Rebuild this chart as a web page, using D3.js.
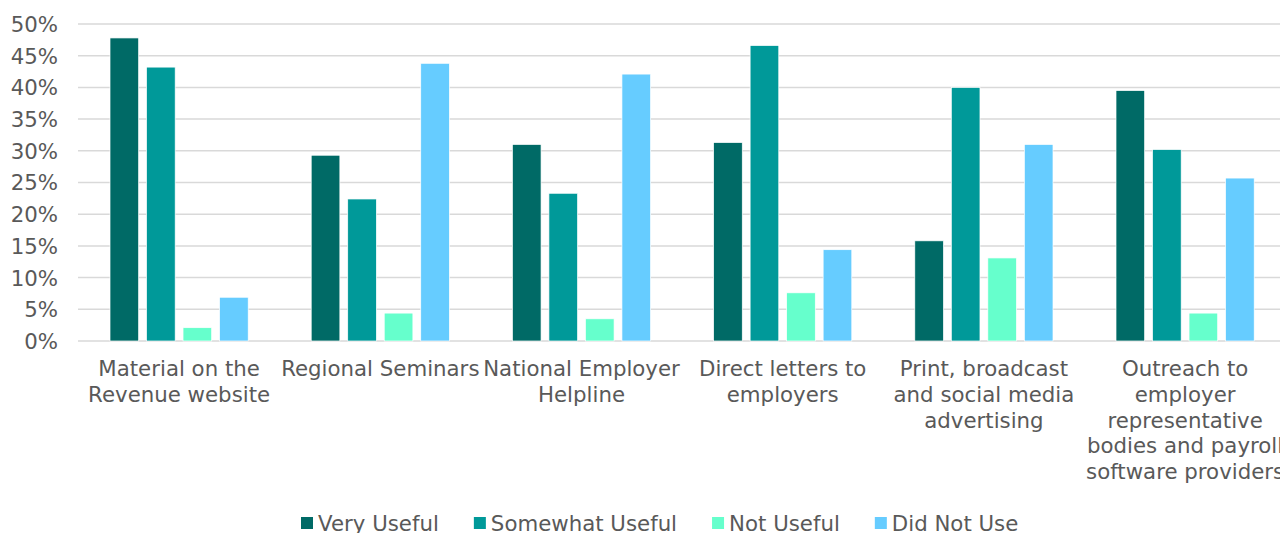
<!DOCTYPE html>
<html><head><meta charset="utf-8">
<script src="https://cdn.jsdelivr.net/npm/d3@7"></script>
<style>body{margin:0;background:#fff;overflow:hidden}svg{display:block}</style>
</head><body>
<script>
const categories = [
  ["Material on the", "Revenue website"],
  ["Regional Seminars"],
  ["National Employer", "Helpline"],
  ["Direct letters to", "employers"],
  ["Print, broadcast", "and social media", "advertising"],
  ["Outreach to", "employer", "representative", "bodies and payroll", "software providers"]
];
const seriesNames = ["Very Useful", "Somewhat Useful", "Not Useful", "Did Not Use"];
const veryUseful     = [47.8, 29.3, 31.0, 31.3, 15.8, 39.5];
const somewhatUseful = [43.2, 22.4, 23.3, 46.6, 40.0, 30.2];
const notUseful      = [2.1, 4.4, 3.5, 7.6, 13.1, 4.4];
const didNotUse      = [6.9, 43.8, 42.1, 14.4, 31.0, 25.7];
const colors = ["#006A66", "#009999", "#66FFCC", "#66CCFF"];
const yTicks = [0, 5, 10, 15, 20, 25, 30, 35, 40, 45, 50];

const W = 1280, H = 533;
const font = "'DejaVu Sans', Verdana, sans-serif";
const fs = 21.3;
const svg = d3.select("body").append("svg").attr("width", W).attr("height", H);

const series = [veryUseful, somewhatUseful, notUseful, didNotUse];
const catIdx = d3.range(categories.length);
const x = d3.scaleBand().domain(catIdx).range([78.5, 1285.7]).paddingInner(0).paddingOuter(0);
const y = d3.scaleLinear().domain([0, 50]).range([341, 24]);
const xs = d3.scaleBand().domain(d3.range(4)).range([31.5, x.bandwidth() - 31.5]).paddingInner(0.215).paddingOuter(0);

// gridlines
svg.append("g").selectAll("line").data(yTicks).join("line")
  .attr("x1", 78).attr("x2", 1285)
  .attr("y1", d => y(d)).attr("y2", d => y(d))
  .attr("stroke", "#d9d9d9").attr("stroke-width", 1.5);

// y axis labels
const yAxis = d3.axisLeft(y).tickValues(yTicks).tickFormat(d => d + "%").tickSize(0).tickPadding(0);
const ya = svg.append("g").attr("transform", "translate(58,0)").call(yAxis);
ya.select(".domain").remove();
ya.selectAll("text").attr("font-family", font).attr("font-size", fs).attr("fill", "#595959").attr("dy", "0.35em");

// bars
const groups = svg.append("g").selectAll("g").data(catIdx).join("g")
  .attr("transform", i => `translate(${x(i)},0)`);
groups.selectAll("rect").data(i => series.map((s, k) => ({k, v: s[i]}))).join("rect")
  .attr("x", d => xs(d.k)).attr("width", xs.bandwidth())
  .attr("y", d => y(d.v)).attr("height", d => y(0) - y(d.v))
  .attr("fill", d => colors[d.k]).attr("stroke", "#ffffff").attr("stroke-width", 0.7);

// category labels
const lab = svg.append("g").selectAll("text").data(catIdx).join("text")
  .attr("font-family", font).attr("font-size", fs).attr("fill", "#595959")
  .attr("text-anchor", "middle")
  .attr("transform", i => `translate(${x(i) + x.bandwidth() / 2},376)`);
lab.selectAll("tspan").data(i => categories[i]).join("tspan")
  .attr("x", 0).attr("y", (d, j) => j * 25.8).text(d => d);

// legend
const leg = svg.append("g").attr("transform", "translate(301,0)");
let cx = 0;
seriesNames.forEach((n, k) => {
  const g = leg.append("g").attr("transform", `translate(${cx},0)`);
  g.append("rect").attr("x", 0).attr("y", 517).attr("width", 12).attr("height", 12).attr("fill", colors[k]);
  const t = g.append("text").attr("x", 17).attr("y", 531).attr("font-family", font).attr("font-size", fs)
    .attr("fill", "#595959").text(n);
  cx += 17 + t.node().getComputedTextLength() + 35;
});
</script>
</body></html>
